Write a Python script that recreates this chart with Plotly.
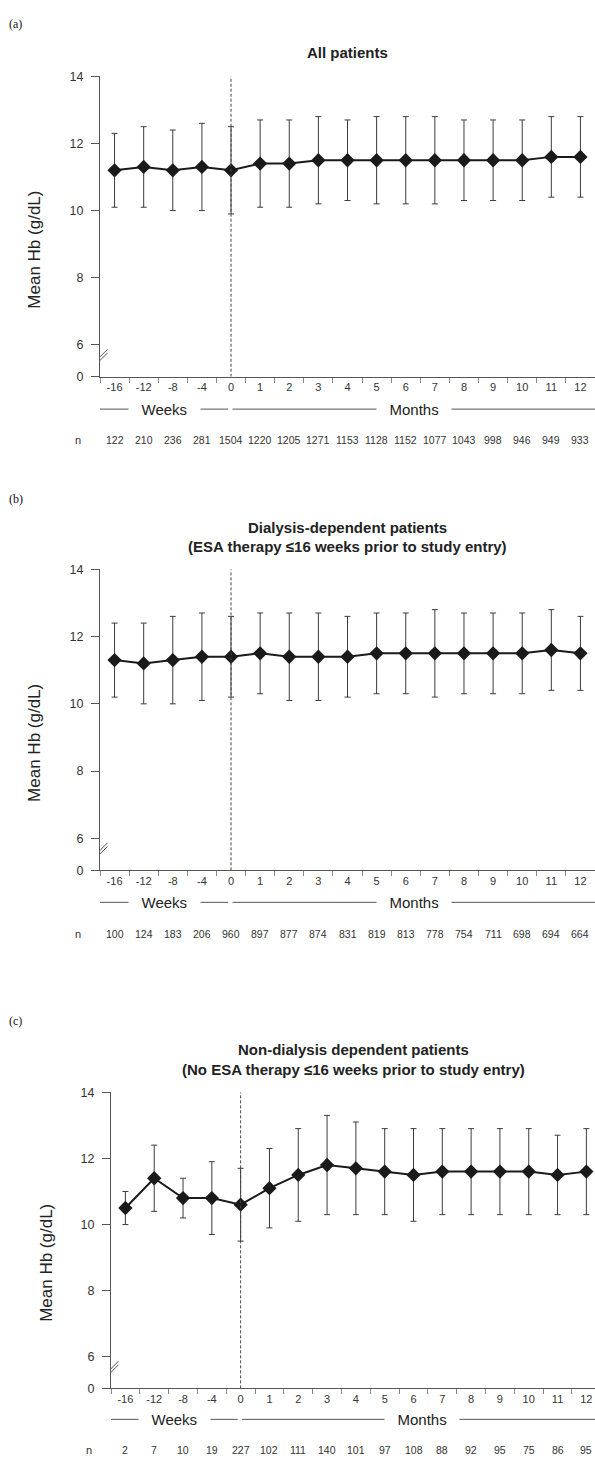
import plotly.graph_objects as go

W, H = 595, 1463

# ---------------- data ----------------
x_labels = ["-16", "-12", "-8", "-4", "0", "1", "2", "3", "4", "5", "6", "7", "8", "9", "10", "11", "12"]
y_tick_vals = [6, 8, 10, 12, 14]

a_mean = [11.2, 11.3, 11.2, 11.3, 11.2, 11.4, 11.4, 11.5, 11.5, 11.5, 11.5, 11.5, 11.5, 11.5, 11.5, 11.6, 11.6]
a_upper = [12.3, 12.5, 12.4, 12.6, 12.5, 12.7, 12.7, 12.8, 12.7, 12.8, 12.8, 12.8, 12.7, 12.7, 12.7, 12.8, 12.8]
a_lower = [10.1, 10.1, 10.0, 10.0, 9.9, 10.1, 10.1, 10.2, 10.3, 10.2, 10.2, 10.2, 10.3, 10.3, 10.3, 10.4, 10.4]
a_n = [122, 210, 236, 281, 1504, 1220, 1205, 1271, 1153, 1128, 1152, 1077, 1043, 998, 946, 949, 933]

b_mean = [11.3, 11.2, 11.3, 11.4, 11.4, 11.5, 11.4, 11.4, 11.4, 11.5, 11.5, 11.5, 11.5, 11.5, 11.5, 11.6, 11.5]
b_upper = [12.4, 12.4, 12.6, 12.7, 12.6, 12.7, 12.7, 12.7, 12.6, 12.7, 12.7, 12.8, 12.7, 12.7, 12.7, 12.8, 12.6]
b_lower = [10.2, 10.0, 10.0, 10.1, 10.2, 10.3, 10.1, 10.1, 10.2, 10.3, 10.3, 10.2, 10.3, 10.3, 10.3, 10.4, 10.4]
b_n = [100, 124, 183, 206, 960, 897, 877, 874, 831, 819, 813, 778, 754, 711, 698, 694, 664]

c_mean = [10.5, 11.4, 10.8, 10.8, 10.6, 11.1, 11.5, 11.8, 11.7, 11.6, 11.5, 11.6, 11.6, 11.6, 11.6, 11.5, 11.6]
c_upper = [11.0, 12.4, 11.4, 11.9, 11.7, 12.3, 12.9, 13.3, 13.1, 12.9, 12.9, 12.9, 12.9, 12.9, 12.9, 12.7, 12.9]
c_lower = [10.0, 10.4, 10.2, 9.7, 9.5, 9.9, 10.1, 10.3, 10.3, 10.3, 10.1, 10.3, 10.3, 10.3, 10.3, 10.3, 10.3]
c_n = [2, 7, 10, 19, 227, 102, 111, 140, 101, 97, 108, 88, 92, 95, 75, 86, 95]

panel_labels = ["(a)", "(b)", "(c)"]
panel_titles = [
    ["All patients"],
    ["Dialysis-dependent patients", "(ESA therapy \u226416 weeks prior to study entry)"],
    ["Non-dialysis dependent patients", "(No ESA therapy \u226416 weeks prior to study entry)"],
]
y_title = "Mean Hb (g/dL)"
week_text = "Weeks"
month_text = "Months"

# ---------------- styling / geometry ----------------
FONT = "Liberation Sans, Arial, sans-serif"
SERIF = "Liberation Serif, Times New Roman, serif"
BREAK = 5.05          # axis value where the broken "0" is shown
BREAK_MARK = 5.59

def py(p):
    return 1 - p / H

def px(p):
    return p / W

geo = [
    dict(left=100, top=70, bottom=373.3, xmax=16.5, lab_y=17, title_y=[45.7],
         ylab_x=35, ylab_y=245, wk_y=406, n_y=437, n_x=78),
    dict(left=100, top=567.7, bottom=871.7, xmax=16.5, lab_y=497, title_y=[526, 545],
         ylab_x=35, ylab_y=743, wk_y=904, n_y=936, n_x=78),
    dict(left=111, top=1095.7, bottom=1394.7, xmax=16.3, lab_y=1024, title_y=[1053, 1072.7],
         ylab_x=47, ylab_y=1268, wk_y=1426, n_y=1456.7, n_x=88.5),
]

series = [
    (a_mean, a_upper, a_lower, a_n),
    (b_mean, b_upper, b_lower, b_n),
    (c_mean, c_upper, c_lower, c_n),
]

fig = go.Figure()
shapes = []
annotations = []
layout_axes = {}

def ann(**kw):
    base = dict(showarrow=False, xanchor="center", yanchor="middle")
    base.update(kw)
    annotations.append(base)

for k, (g, (mean, up, lo, nn)) in enumerate(zip(geo, series)):
    sfx = "" if k == 0 else str(k + 1)
    xa, ya = "x" + sfx, "y" + sfx
    fig.add_trace(go.Scatter(
        x=x_labels, y=mean, xaxis=xa, yaxis=ya,
        mode="lines+markers",
        line=dict(color="#1a1a1a", width=2),
        marker=dict(symbol="diamond", size=11, color="#1a1a1a"),
        error_y=dict(type="data", symmetric=False,
                     array=[u - m for u, m in zip(up, mean)],
                     arrayminus=[m - l for m, l in zip(mean, lo)],
                     color="#3c3c3c", thickness=1, width=3),
        showlegend=False, cliponaxis=False, hoverinfo="skip",
    ))
    layout_axes["xaxis" + sfx] = dict(
        domain=[px(g["left"]), 1], anchor=ya, type="category",
        categoryorder="array", categoryarray=x_labels,
        range=[-0.5, g["xmax"]], showline=True, linecolor="#555", linewidth=1,
        ticks="outside", tickson="boundaries", ticklen=5, tickcolor="#888", tickwidth=1,
        tickfont=dict(family=FONT, size=11, color="#333"), showgrid=False, zeroline=False,
        fixedrange=True,
    )
    layout_axes["yaxis" + sfx] = dict(
        domain=[py(g["bottom"]), py(g["top"])], anchor=xa,
        range=[BREAK, 14], showline=True, linecolor="#555", linewidth=1,
        tickmode="array", tickvals=[BREAK] + y_tick_vals,
        ticktext=["0"] + [str(v) for v in y_tick_vals],
        ticks="outside", ticklen=8, tickcolor="#555", tickwidth=1, ticklabelstandoff=5,
        tickfont=dict(family=FONT, size=12.5, color="#333"), showgrid=False, zeroline=False,
        fixedrange=True,
    )
    # dashed reference line at study entry ("0")
    shapes.append(dict(type="line", xref=xa, yref=ya, x0=4, x1=4, y0=BREAK, y1=14,
                       line=dict(color="#444", width=1, dash="3px,2px")))
    # axis break marks
    for off in (-1.8, 1.8):
        shapes.append(dict(type="line", xref=xa, yref=ya, xsizemode="pixel", ysizemode="pixel",
                           xanchor=-0.5, yanchor=BREAK_MARK,
                           x0=-7.5, x1=7.5, y0=off - 7.5, y1=off + 7.5,
                           line=dict(color="#555", width=1)))
    # Weeks / Months lines
    shapes.append(dict(type="line", xref=xa, yref="paper", x0=-0.5, x1=3.9,
                       y0=py(g["wk_y"]), y1=py(g["wk_y"]), line=dict(color="#555", width=1)))
    shapes.append(dict(type="line", xref=xa, yref="paper", x0=4.05, x1=g["xmax"],
                       y0=py(g["wk_y"]), y1=py(g["wk_y"]), line=dict(color="#555", width=1)))
    sp = "\u00a0\u00a0\u00a0"
    ann(text=sp + week_text + sp, xref=xa, yref="paper", x=1.72, y=py(g["wk_y"]),
        bgcolor="white", borderpad=0, font=dict(family=FONT, size=15, color="#222"))
    ann(text=sp + month_text + sp, xref=xa, yref="paper", x=10.28, y=py(g["wk_y"]),
        bgcolor="white", borderpad=0, font=dict(family=FONT, size=15, color="#222"))
    # n row
    ann(text="n", xref="paper", yref="paper", x=px(g["n_x"]), y=py(g["n_y"]),
        font=dict(family=FONT, size=11, color="#333"))
    for i, v in enumerate(nn):
        ann(text=str(v), xref=xa, yref="paper", x=i, y=py(g["n_y"]),
            font=dict(family=FONT, size=10.5, color="#333"))
    # panel label
    ann(text=panel_labels[k], xref="paper", yref="paper", x=px(7), xanchor="left",
        y=py(g["lab_y"]), font=dict(family=SERIF, size=12, color="#111"))
    # title lines
    cx = (px(g["left"]) + 1) / 2
    for t, ty in zip(panel_titles[k], g["title_y"]):
        ann(text="<b>" + t + "</b>", xref="paper", yref="paper", x=cx, y=py(ty),
            font=dict(family=FONT, size=15, color="#222"))
    # y-axis title
    ann(text=y_title, xref="paper", yref="paper", x=px(g["ylab_x"]), y=py(g["ylab_y"]),
        textangle=-90, font=dict(family=FONT, size=17, color="#222"))

fig.update_layout(
    width=W, height=H, margin=dict(l=0, r=0, t=0, b=0),
    paper_bgcolor="white", plot_bgcolor="white",
    shapes=shapes, annotations=annotations, **layout_axes,
)

fig.write_html(
    "out.html",
    config={"displayModeBar": False, "staticPlot": True},
    post_script="document.body.style.margin='0';document.body.style.overflow='hidden';"
                "document.documentElement.style.overflow='hidden';",
)
